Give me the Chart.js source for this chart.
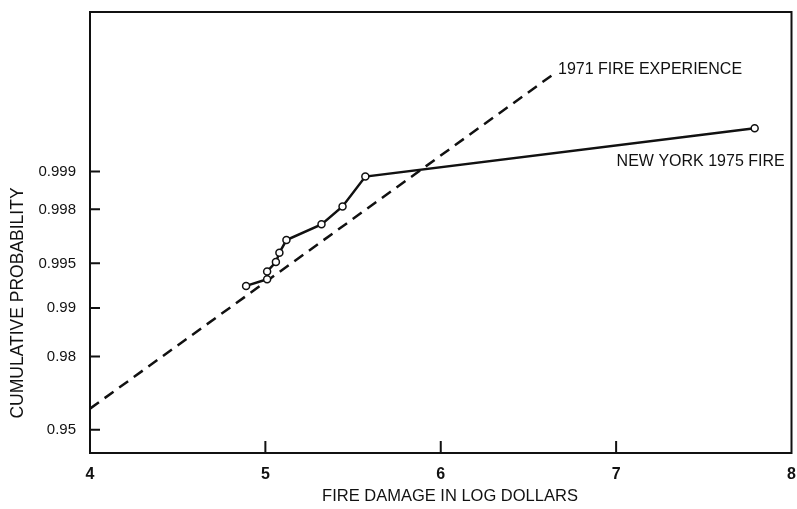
<!DOCTYPE html>
<html>
<head>
<meta charset="utf-8">
<script src="https://cdn.jsdelivr.net/npm/chart.js@4.4.1/dist/chart.umd.min.js"></script>
<style>
  html, body { margin: 0; padding: 0; background: #fff; }
</style>
</head>
<body>
<canvas id="fireChart" width="797" height="509"></canvas>
<script>
// values (x = log10 dollars, y = cumulative probability)
const nyDamage = [4.89, 5.01, 5.01, 5.06, 5.08, 5.12, 5.32, 5.44, 5.57, 7.79];
const nyProb = [0.99285, 0.99356, 0.9943, 0.9951, 0.9958, 0.9966, 0.9974, 0.9981, 0.9989, 0.99957];
const exp1971Damage = [4.0, 6.64];
const exp1971Prob = [0.961, 0.99986];
const probTicks = [0.95, 0.98, 0.99, 0.995, 0.998, 0.999];
const probLabels = ['0.95', '0.98', '0.99', '0.995', '0.998', '0.999'];
const probRange = [0.935, 0.999966];
const damageTicks = [4, 5, 6, 7, 8];

const FONT = "'Liberation Sans', Arial, Helvetica, sans-serif";
const INK = '#111';

// normal probability paper: inverse normal cdf (Acklam)
function probit(p) {
  const a = [-39.69683028665376, 220.9460984245205, -275.9285104469687, 138.3577518672690, -30.66479806614716, 2.506628277459239];
  const b = [-54.47609879822406, 161.5858368580409, -155.6989798598866, 66.80131188771972, -13.28068155288572];
  const c = [-0.007784894002430293, -0.3223964580411365, -2.400758277161838, -2.549732539343734, 4.374664141464968, 2.938163982698783];
  const d = [0.007784695709041462, 0.3224671290700398, 2.445134137142996, 3.754408661907416];
  const lo = 0.02425;
  let q, r;
  if (p < lo) {
    q = Math.sqrt(-2 * Math.log(p));
    return (((((c[0]*q+c[1])*q+c[2])*q+c[3])*q+c[4])*q+c[5]) / ((((d[0]*q+d[1])*q+d[2])*q+d[3])*q+1);
  }
  if (p <= 1 - lo) {
    q = p - 0.5; r = q * q;
    return (((((a[0]*r+a[1])*r+a[2])*r+a[3])*r+a[4])*r+a[5])*q / (((((b[0]*r+b[1])*r+b[2])*r+b[3])*r+b[4])*r+1);
  }
  q = Math.sqrt(-2 * Math.log(1 - p));
  return -(((((c[0]*q+c[1])*q+c[2])*q+c[3])*q+c[4])*q+c[5]) / ((((d[0]*q+d[1])*q+d[2])*q+d[3])*q+1);
}

// no extra room for half-labels at the axis ends
function noPad(s) {
  s.paddingTop = 0; s.paddingBottom = 0; s.paddingLeft = 0; s.paddingRight = 0;
}

// frame, inward tick marks, axis titles and line labels
const framePlugin = {
  id: 'frame',
  afterDatasetsDraw(chart) {
    const {ctx, chartArea: a, scales: {x, y}} = chart;
    ctx.save();
    ctx.strokeStyle = INK;
    ctx.lineWidth = 2;
    ctx.strokeRect(a.left, a.top, a.right - a.left, a.bottom - a.top);
    ctx.beginPath();
    probTicks.forEach(p => {
      const py = y.getPixelForValue(probit(p));
      ctx.moveTo(a.left, py); ctx.lineTo(a.left + 10, py);
    });
    damageTicks.slice(1, -1).forEach(v => {
      const px = x.getPixelForValue(v);
      ctx.moveTo(px, a.bottom); ctx.lineTo(px, a.bottom - 12);
    });
    ctx.stroke();

    ctx.fillStyle = INK;
    ctx.textBaseline = 'middle';
    ctx.textAlign = 'center';
    ctx.font = '16.5px ' + FONT;
    ctx.fillText('FIRE DAMAGE IN LOG DOLLARS', 450, 496);
    ctx.save();
    ctx.translate(18, 303);
    ctx.rotate(-Math.PI / 2);
    ctx.font = '17.5px ' + FONT;
    ctx.fillText('CUMULATIVE PROBABILITY', 0, 0);
    ctx.restore();

    ctx.font = '16px ' + FONT;
    ctx.textBaseline = 'alphabetic';
    const e = chart.getDatasetMeta(1).data[1];
    ctx.textAlign = 'left';
    ctx.fillText('1971 FIRE EXPERIENCE', e.x + 5, e.y - 1);
    const n = chart.getDatasetMeta(0).data[nyDamage.length - 1];
    ctx.textAlign = 'right';
    ctx.fillText('NEW YORK 1975 FIRE', n.x + 30, n.y + 38);
    ctx.restore();
  }
};

new Chart(document.getElementById('fireChart'), {
  type: 'scatter',
  data: {
    datasets: [
      {
        label: 'New York 1975 fire',
        data: nyDamage.map((v, i) => ({x: v, y: probit(nyProb[i])})),
        showLine: true,
        borderColor: INK,
        borderWidth: 2.5,
        pointRadius: 3.5,
        pointBorderWidth: 1.5,
        pointBackgroundColor: '#fff',
        pointBorderColor: INK
      },
      {
        label: '1971 fire experience',
        data: exp1971Damage.map((v, i) => ({x: v, y: probit(exp1971Prob[i])})),
        showLine: true,
        borderColor: INK,
        borderWidth: 2.5,
        borderDash: [11, 7],
        pointRadius: 0
      }
    ]
  },
  options: {
    responsive: false,
    animation: false,
    layout: { padding: { left: 8, right: 4, top: 12, bottom: 4 } },
    plugins: { legend: { display: false }, tooltip: { enabled: false } },
    scales: {
      x: {
        type: 'linear',
        min: 4,
        max: 8,
        afterBuildTicks: s => { s.ticks = damageTicks.map(v => ({value: v})); },
        afterFit: s => { s.height = 52; noPad(s); },
        grid: { display: false, drawTicks: false },
        border: { display: false },
        ticks: { color: INK, padding: 12, font: { family: FONT, size: 16, weight: 'bold' }, callback: v => String(v) }
      },
      y: {
        type: 'linear',
        min: probit(probRange[0]),
        max: probit(probRange[1]),
        afterBuildTicks: s => { s.ticks = probTicks.map(p => ({value: probit(p)})); },
        afterFit: s => { s.width = 82; noPad(s); },
        grid: { display: false, drawTicks: false },
        border: { display: false },
        ticks: { color: INK, padding: 14, font: { family: FONT, size: 15 }, callback: (v, i) => probLabels[i] }
      }
    }
  },
  plugins: [framePlugin]
});
</script>
</body>
</html>
